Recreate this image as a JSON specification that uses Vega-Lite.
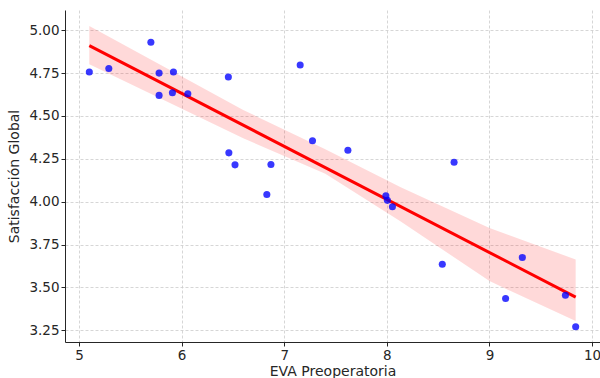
{
  "$schema": "https://vega.github.io/schema/vega-lite/v6.json",
  "width": 535,
  "height": 332,
  "autosize": {"type": "none"},
  "padding": {"left": 65, "top": 10, "right": 0, "bottom": 36},
  "background": "white",
  "config": {
    "view": {"stroke": null},
    "font": "DejaVu Sans",
    "axis": {
      "labelFont": "DejaVu Sans",
      "titleFont": "DejaVu Sans",
      "labelFontSize": 13.5,
      "titleFontSize": 14,
      "titleFontWeight": "normal",
      "labelColor": "#262626",
      "titleColor": "#262626",
      "domainColor": "#262626",
      "domainWidth": 1,
      "tickColor": "#262626",
      "tickSize": 4,
      "tickWidth": 1,
      "gridColor": "#cccccc",
      "gridDash": [3, 2],
      "gridWidth": 0.8,
      "labelPadding": 2
    }
  },
  "datasets": {
    "pts": [
      {"eva": 5.10, "sat": 4.756},
      {"eva": 5.29, "sat": 4.777},
      {"eva": 5.70, "sat": 4.93},
      {"eva": 5.78, "sat": 4.75},
      {"eva": 5.78, "sat": 4.62},
      {"eva": 5.92, "sat": 4.756},
      {"eva": 5.91, "sat": 4.635},
      {"eva": 6.06, "sat": 4.63},
      {"eva": 6.455, "sat": 4.727},
      {"eva": 6.46, "sat": 4.285},
      {"eva": 6.52, "sat": 4.215},
      {"eva": 6.83, "sat": 4.042},
      {"eva": 6.87, "sat": 4.217},
      {"eva": 7.155, "sat": 4.797},
      {"eva": 7.275, "sat": 4.356},
      {"eva": 7.62, "sat": 4.30},
      {"eva": 7.99, "sat": 4.035},
      {"eva": 8.005, "sat": 4.008},
      {"eva": 8.054, "sat": 3.971},
      {"eva": 8.54, "sat": 3.635},
      {"eva": 8.655, "sat": 4.23},
      {"eva": 9.157, "sat": 3.436},
      {"eva": 9.32, "sat": 3.675},
      {"eva": 9.74, "sat": 3.455},
      {"eva": 9.84, "sat": 3.271}
    ],
    "band": [
      {"eva": 5.10, "lo": 4.802, "hi": 5.025},
      {"eva": 6.6, "lo": 4.37, "hi": 4.535},
      {"eva": 7.4, "lo": 4.163, "hi": 4.306},
      {"eva": 8.135, "lo": 3.885, "hi": 4.085},
      {"eva": 9.0, "lo": 3.537, "hi": 3.847},
      {"eva": 9.84, "lo": 3.304, "hi": 3.663}
    ]
  },
  "encoding": {
    "x": {
      "field": "eva",
      "type": "quantitative",
      "scale": {"domain": [4.863, 10.077], "nice": false, "zero": false},
      "axis": {"title": "EVA Preoperatoria", "values": [5, 6, 7, 8, 9, 10], "format": "d", "titlePadding": 3}
    }
  },
  "layer": [
    {
      "data": {"name": "band"},
      "mark": {"type": "area", "color": "#ff0000", "opacity": 0.15},
      "encoding": {
        "y": {
          "field": "lo",
          "type": "quantitative",
          "scale": {"domain": [3.182, 5.118], "nice": false, "zero": false},
          "axis": {"title": "Satisfacción Global", "values": [3.25, 3.5, 3.75, 4.0, 4.25, 4.5, 4.75, 5.0], "format": ".2f", "titlePadding": 7}
        },
        "y2": {"field": "hi"}
      }
    },
    {
      "data": {"name": "pts"},
      "transform": [{"regression": "sat", "on": "eva"}],
      "mark": {"type": "line", "color": "#ff0000", "strokeWidth": 3},
      "encoding": {
        "y": {"field": "sat", "type": "quantitative"}
      }
    },
    {
      "data": {"name": "pts"},
      "mark": {"type": "circle", "color": "#0000ff", "opacity": 0.78, "size": 50},
      "encoding": {
        "y": {"field": "sat", "type": "quantitative"}
      }
    }
  ]
}
